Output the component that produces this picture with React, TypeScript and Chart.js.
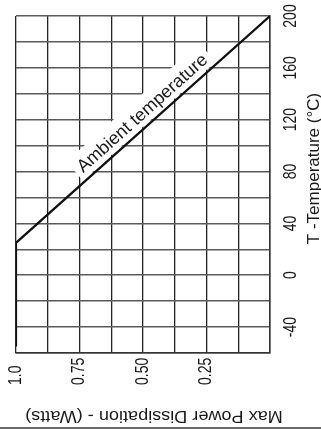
import React, { useEffect, useRef } from "react";
import { Chart, registerables } from "chart.js";

Chart.register(...registerables);

// ---- data ----
const powerW = [1.0, 1.0, 0.0];
const tempC = [-55, 25, 200];

const powerTickValues = [1.0, 0.75, 0.5, 0.25];
const powerTickLabels = ["1.0", "0.75", "0.50", "0.25"];
const tempTickValues = [-40, 0, 40, 80, 120, 160, 200];
const tempTickLabels = ["-40", "0", "40", "80", "120", "160", "200"];

const curveLabel = "Ambient temperature";
const xTitle = "Max Power Dissipation - (Watts)";
const yTitle = "T -Temperature (°C)";

const FONT = "'Liberation Sans', Arial, sans-serif";
const TEXT = "#1a1a1a";

const textPlugin = {
  id: "rotatedText",
  beforeDatasetsDraw(chart: any) {
    const { ctx } = chart;
    const xs = chart.scales.x;
    const ys = chart.scales.y;
    const x1 = xs.getPixelForValue(powerW[1]);
    const y1 = ys.getPixelForValue(tempC[1]);
    const x2 = xs.getPixelForValue(powerW[2]);
    const y2 = ys.getPixelForValue(tempC[2]);
    const ang = Math.atan2(y2 - y1, x2 - x1);
    const f = 0.53;
    const px = x1 + f * (x2 - x1);
    const py = y1 + f * (y2 - y1);
    ctx.save();
    ctx.translate(px, py);
    ctx.rotate(ang);
    ctx.font = `18px ${FONT}`;
    const w = ctx.measureText(curveLabel).width;
    ctx.fillStyle = "#ffffff";
    ctx.fillRect(-w / 2 - 5, -27, w + 10, 25);
    ctx.fillStyle = TEXT;
    ctx.textAlign = "center";
    ctx.textBaseline = "alphabetic";
    ctx.fillText(curveLabel, 0, -7);
    ctx.restore();
  },
  afterDraw(chart: any) {
    const { ctx, chartArea } = chart;
    const xs = chart.scales.x;
    const ys = chart.scales.y;
    ctx.save();
    ctx.fillStyle = TEXT;
    // bottom tick labels (rotated, reading upward)
    ctx.font = `14px ${FONT}`;
    powerTickValues.forEach((v, i) => {
      const px = xs.getPixelForValue(v);
      ctx.save();
      ctx.translate(px, chartArea.bottom + 32);
      ctx.rotate(-Math.PI / 2);
      ctx.scale(1, 1.25);
      ctx.textAlign = "left";
      ctx.textBaseline = "middle";
      ctx.fillText(powerTickLabels[i], 0, 0);
      ctx.restore();
    });
    // right tick labels (rotated, reading upward)
    tempTickValues.forEach((v, i) => {
      const py = ys.getPixelForValue(v);
      ctx.save();
      ctx.translate(chartArea.right + 21, py);
      ctx.rotate(-Math.PI / 2);
      ctx.scale(1, 1.25);
      ctx.textAlign = "center";
      ctx.textBaseline = "middle";
      ctx.fillText(tempTickLabels[i], 0, 0);
      ctx.restore();
    });
    // right axis title
    ctx.save();
    ctx.font = `17px ${FONT}`;
    ctx.translate(chartArea.right + 44, (chartArea.top + chartArea.bottom) / 2 - 16);
    ctx.rotate(-Math.PI / 2);
    ctx.textAlign = "center";
    ctx.textBaseline = "middle";
    ctx.fillText(yTitle, 0, 0);
    ctx.restore();
    // bottom axis title (upside down)
    ctx.save();
    ctx.font = `16px ${FONT}`;
    ctx.translate(154, chartArea.bottom + 62);
    ctx.rotate(Math.PI);
    ctx.scale(1.13, 1);
    ctx.textAlign = "center";
    ctx.textBaseline = "middle";
    ctx.fillText(xTitle, 0, 0);
    ctx.restore();
    // bottom rule
    ctx.strokeStyle = "#6a6a6a";
    ctx.lineWidth = 2;
    ctx.beginPath();
    ctx.moveTo(0, chart.height - 2);
    ctx.lineTo(chart.width, chart.height - 2);
    ctx.stroke();
    ctx.restore();
  },
};

export default function App() {
  const ref = useRef<HTMLCanvasElement | null>(null);
  useEffect(() => {
    document.body.style.margin = "0";
    if (!ref.current) return;
    const chart = new Chart(ref.current, {
      type: "line",
      data: {
        datasets: [
          {
            data: powerW.map((p, i) => ({ x: p, y: tempC[i] })),
            borderColor: "#111111",
            borderWidth: 2.2,
            pointRadius: 0,
            tension: 0,
            fill: false,
          },
        ],
      },
      options: {
        responsive: false,
        animation: false,
        devicePixelRatio: 1,
        layout: { padding: { left: 16, top: 16, right: 51, bottom: 77 } },
        plugins: { legend: { display: false }, tooltip: { enabled: false } },
        scales: {
          x: {
            type: "linear",
            reverse: true,
            min: 0,
            max: 1,
            ticks: { display: false, stepSize: 0.125 },
            grid: { color: "#222222", lineWidth: 1.3, drawTicks: false },
            border: { display: true, color: "#333333", width: 1.5 },
          },
          y: {
            type: "linear",
            position: "right",
            min: -60,
            max: 200,
            ticks: { display: false, stepSize: 20 },
            grid: { color: "#5a5a5a", lineWidth: 1.6, drawTicks: false },
            border: { display: true, color: "#333333", width: 1.5 },
          },
        },
      },
      plugins: [textPlugin],
    } as any);
    return () => chart.destroy();
  }, []);
  return (
    <div style={{ width: 321, height: 430 }}>
      <canvas ref={ref} width={321} height={430} style={{ display: "block" }} />
    </div>
  );
}
